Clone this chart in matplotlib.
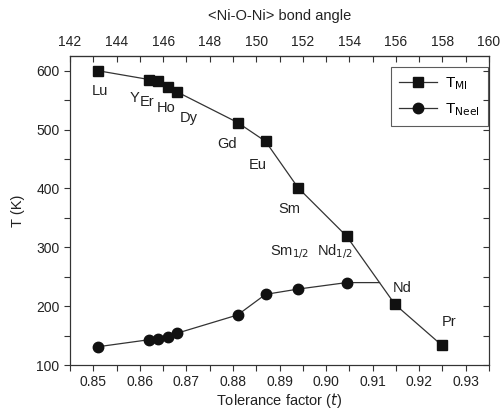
import matplotlib.pyplot as plt
from matplotlib.ticker import MultipleLocator
import numpy as np

plt.rcParams["font.family"] = ["Liberation Sans", "DejaVu Sans"]
plt.rcParams["font.size"] = 10

# T_MI data (tolerance factor, temperature)
t_mi = [0.851, 0.862, 0.864, 0.866, 0.868, 0.881, 0.887, 0.894, 0.9044, 0.9148, 0.9248]
T_mi = [600, 585, 582, 573, 564, 512, 480, 401, 319, 203, 134]
# T_Neel data
t_neel = [0.851, 0.862, 0.864, 0.866, 0.868, 0.881, 0.887, 0.894, 0.9044]
T_neel = [131, 143, 144, 147, 154, 185, 220, 229, 240]

# sample labels and where they sit
names = ["Lu", "Y", "Er", "Ho", "Dy", "Gd", "Eu", "Sm",
         r"Sm$_{1/2}$", r"Nd$_{1/2}$", "Nd", "Pr"]
name_t = [0.8515, 0.8588, 0.8615, 0.8656, 0.8705, 0.8787, 0.8853, 0.8922,
          0.8922, 0.9019, 0.9164, 0.9265]
name_T = [565, 554, 546, 537, 520, 475, 440, 365, 292, 292, 231, 173]

angle_ticks = np.arange(142, 161, 2)

fig = plt.figure(figsize=(5.03, 4.11), dpi=100)
ax = fig.add_axes([70 / 503, 1 - 365 / 411, 419 / 503, 309 / 411])

ax.plot(t_mi, T_mi, '-', color='#333333', lw=0.9, marker='s', ms=7.8,
        mfc='#111111', mec='#111111', label=r'T$_{\mathrm{MI}}$')

# Neel line continues flat until it meets the T_MI curve
y_end = T_neel[-1]
x0, x1 = t_mi[-3], t_mi[-2]
y0, y1 = T_mi[-3], T_mi[-2]
x_cross = x0 + (y_end - y0) * (x1 - x0) / (y1 - y0)
ax.plot(t_neel + [x_cross], T_neel + [y_end], '-', color='#333333', lw=0.9)
ax.plot(t_neel, T_neel, 'o', ms=7.5, mfc='#111111', mec='#111111')
# legend proxy
ax.plot([], [], '-', color='#333333', lw=0.9, marker='o', ms=7.5,
        mfc='#111111', mec='#111111', label=r'T$_{\mathrm{Neel}}$')

for n, tx, ty in zip(names, name_t, name_T):
    ax.text(tx, ty, n, ha='center', va='center', fontsize=10.5, color='#222222')

ax.set_xlim(0.845, 0.935)
ax.set_ylim(100, 625)
ax.set_xticks(np.arange(0.85, 0.935, 0.01))
ax.set_xticklabels(["%.2f" % v for v in np.arange(0.85, 0.935, 0.01)])
ax.xaxis.set_minor_locator(MultipleLocator(0.005))
ax.set_yticks([100, 200, 300, 400, 500, 600])
ax.yaxis.set_minor_locator(MultipleLocator(50))
ax.tick_params(which='both', direction='out', length=4, width=0.8,
               colors='#333333', labelcolor='#222222', labelsize=10,
               right=False, top=False)
ax.set_xlabel("Tolerance factor ($\\it{t}$)", fontsize=10.5, color='#222222', labelpad=1)
ax.set_ylabel("T (K)", fontsize=10.5, color='#222222', labelpad=8)

# right side ticks point inward
ax2 = ax.twinx()
ax2.set_ylim(ax.get_ylim())
ax2.yaxis.set_major_locator(MultipleLocator(50))
ax2.tick_params(direction='in', length=4, width=0.8, colors='#333333',
                labelright=False)

# top axis: bond angle
top = ax.secondary_xaxis('top', functions=(lambda t: 142 + (t - 0.845) * 200,
                                            lambda a: 0.845 + (a - 142) / 200))
top.set_xticks(angle_ticks)
top.xaxis.set_minor_locator(MultipleLocator(1))
top.tick_params(which='both', direction='in', length=4, width=0.8,
                colors='#333333', labelcolor='#222222', labelsize=10, pad=5)
top.set_xlabel("<Ni-O-Ni> bond angle", fontsize=10.5, color='#222222', labelpad=11)

for a in (ax, ax2):
    for s in a.spines.values():
        s.set_color('#333333')
        s.set_linewidth(0.8)

leg = ax.legend(loc='upper right', bbox_to_anchor=(0.997, 0.965), fontsize=11,
                frameon=True, fancybox=False, edgecolor='#333333',
                borderaxespad=0, handlelength=2.5, labelspacing=0.6,
                borderpad=0.55, handletextpad=0.5)
leg.get_frame().set_linewidth(0.8)

fig.savefig("out.png", dpi=100)
